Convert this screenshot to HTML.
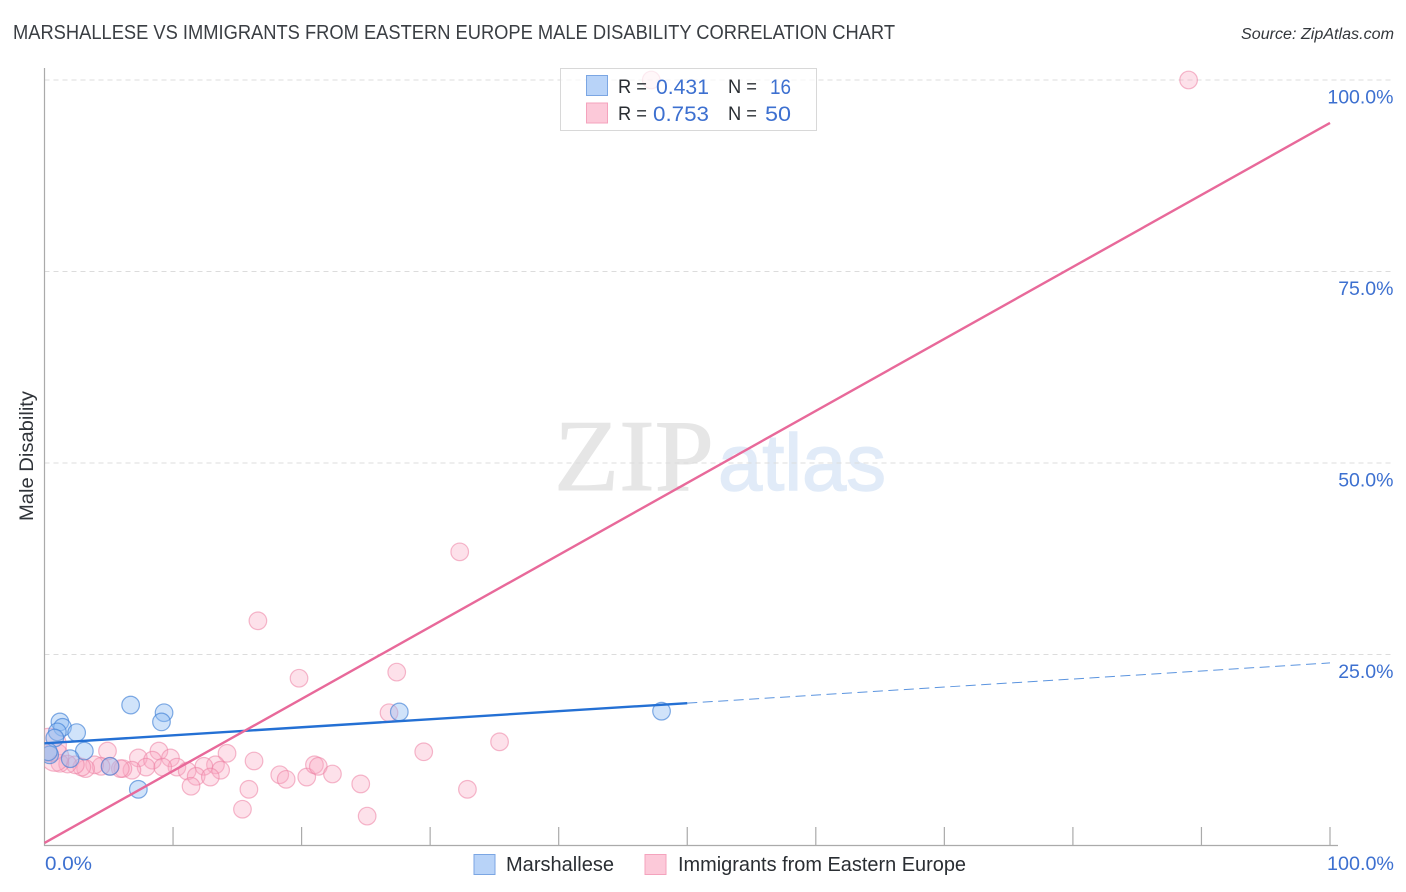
<!DOCTYPE html>
<html lang="en">
<head>
<meta charset="utf-8">
<title>Marshallese vs Immigrants from Eastern Europe Male Disability Correlation Chart</title>
<style>
html,body{margin:0;padding:0;background:#fff;width:1406px;height:892px;overflow:hidden}
svg{display:block;font-family:"Liberation Sans",sans-serif}
</style>
</head>
<body>
<svg id="chart" xmlns="http://www.w3.org/2000/svg" width="1406" height="892" viewBox="0 0 1406 892">
  <defs>
    <clipPath id="plot-clip"><rect x="44.5" y="60" width="1300" height="786"/></clipPath>
  </defs>
  <rect x="0" y="0" width="1406" height="892" fill="#fff"/>
  <text x="13" y="39" font-size="20" fill="#3a3e43" textLength="882" lengthAdjust="spacingAndGlyphs">MARSHALLESE VS IMMIGRANTS FROM EASTERN EUROPE MALE DISABILITY CORRELATION CHART</text>
  <text x="1241" y="39" font-size="15.5" font-style="italic" fill="#33373c" textLength="153" lengthAdjust="spacingAndGlyphs">Source: ZipAtlas.com</text>
  <g>
    <text x="554" y="490" font-family="'Liberation Serif',serif" font-size="102" fill="#e6e6e6" stroke="#e6e6e6" stroke-width="1" textLength="160" lengthAdjust="spacingAndGlyphs">ZIP</text>
    <text x="718" y="490" font-size="80" fill="#e1ebf8" stroke="#e1ebf8" stroke-width="1.4" textLength="168" lengthAdjust="spacingAndGlyphs">atlas</text>
  </g>
  <g id="grid"></g>
  <g id="axes"></g>
  <g id="points" clip-path="url(#plot-clip)"></g>
  <g id="trends"></g>
  <g id="ylabels"></g>
  <text transform="translate(33,456) rotate(-90)" text-anchor="middle" font-size="19" fill="#2f3338" textLength="130" lengthAdjust="spacingAndGlyphs">Male Disability</text>
  <text x="45" y="870" font-size="19" fill="#3d70d0" textLength="47" lengthAdjust="spacingAndGlyphs">0.0%</text>
  <text x="1327" y="870" font-size="19" fill="#3d70d0" textLength="67" lengthAdjust="spacingAndGlyphs">100.0%</text>

  <g>
    <rect x="560.5" y="68.5" width="256" height="62" fill="#fff" fill-opacity="0.72" stroke="#d8d8d8"/>
    <rect x="586.5" y="75.5" width="21" height="20" fill="#b8d3f8" stroke="#7ba6e3"/>
    <rect x="586.5" y="103" width="21" height="20" fill="#fcc9d9" stroke="#f4a3bd"/>
    <text x="618" y="93" font-size="19.5" fill="#2a2e33" textLength="29" lengthAdjust="spacingAndGlyphs">R =</text>
    <text x="656" y="94" font-size="21" fill="#3d70d0" textLength="53" lengthAdjust="spacingAndGlyphs">0.431</text>
    <text x="728" y="93" font-size="19.5" fill="#2a2e33" textLength="29" lengthAdjust="spacingAndGlyphs">N =</text>
    <text x="770" y="94" font-size="21" fill="#3d70d0" textLength="21" lengthAdjust="spacingAndGlyphs">16</text>
    <text x="618" y="120" font-size="19.5" fill="#2a2e33" textLength="29" lengthAdjust="spacingAndGlyphs">R =</text>
    <text x="653" y="121" font-size="21" fill="#3d70d0" textLength="56" lengthAdjust="spacingAndGlyphs">0.753</text>
    <text x="728" y="120" font-size="19.5" fill="#2a2e33" textLength="29" lengthAdjust="spacingAndGlyphs">N =</text>
    <text x="765" y="121" font-size="21" fill="#3d70d0" textLength="26" lengthAdjust="spacingAndGlyphs">50</text>
  </g>

  <g>
    <rect x="474" y="854.5" width="21" height="20" fill="#b8d3f8" stroke="#7ba6e3"/>
    <text x="506" y="871" font-size="20" fill="#2a2e33" textLength="108" lengthAdjust="spacingAndGlyphs">Marshallese</text>
    <rect x="645" y="854.5" width="21" height="20" fill="#fcc9d9" stroke="#f4a3bd"/>
    <text x="678" y="871" font-size="20" fill="#2a2e33" textLength="288" lengthAdjust="spacingAndGlyphs">Immigrants from Eastern Europe</text>
  </g>
</svg>
<script>
const yTicks = [100, 75, 50, 25];
const yTickLabels = ["100.0%", "75.0%", "50.0%", "25.0%"];
const xTicks = [10, 20, 30, 40, 50, 60, 70, 80, 90, 100];

const blueX = [1.2, 1.4, 1.0, 2.5, 0.8, 0.4, 0.3, 3.1, 2.0, 5.1, 7.3, 6.7, 9.3, 9.1, 27.6, 48.0];
const blueY = [16.2, 15.5, 14.9, 14.8, 14.1, 11.9, 12.3, 12.4, 11.4, 10.4, 7.4, 18.4, 17.4, 16.2, 17.5, 17.6];

const pinkX = [19.8, 4.9, 8.9, 14.2, 7.3, 9.8, 8.4, 16.3, 13.3, 12.4, 10.3, 7.9, 9.2, 13.7, 11.1, 11.8, 12.9, 11.4, 15.9, 15.4, 18.3, 18.8, 20.4, 21.0, 21.3, 22.4, 24.6, 25.1, 29.5, 35.4, 32.9, 26.8, 27.4, 32.3, 16.6, 47.2, 89.0, 6.8, 6.1, 5.9, 5.1, 4.4, 3.9, 3.2, 2.9, 2.4, 1.8, 1.2, 0.8, 0.4];
const pinkY = [21.9, 12.4, 12.4, 12.1, 11.5, 11.5, 11.2, 11.1, 10.6, 10.4, 10.3, 10.3, 10.3, 9.9, 9.8, 9.1, 9.0, 7.8, 7.4, 4.8, 9.3, 8.7, 9.0, 10.6, 10.4, 9.4, 8.1, 3.9, 12.3, 13.6, 7.4, 17.4, 22.7, 38.4, 29.4, 100, 100, 9.9, 10.1, 10.1, 10.4, 10.4, 10.6, 10.1, 10.3, 10.6, 10.7, 10.8, 11.6, 13.2];
const pinkLargeIndex = [48, 49];
const pinkLargeScale = [1.6, 1.9];

const blueTrendX = [0, 50, 100];
const blueTrendY = [13.4, 18.65, 23.9];
const pinkTrendX = [0, 100];
const pinkTrendY = [0.4, 94.4];

const NS = "http://www.w3.org/2000/svg";
function xScale(v) { return 44.5 + v * 12.855; }
function yScale(v) { return 846 - v * 7.66; }
function make(tag, attrs, parent) {
  const el = document.createElementNS(NS, tag);
  for (const k in attrs) el.setAttribute(k, attrs[k]);
  parent.appendChild(el);
  return el;
}

const grid = document.getElementById("grid");
const axes = document.getElementById("axes");
const ylabels = document.getElementById("ylabels");
const points = document.getElementById("points");
const trends = document.getElementById("trends");

yTicks.forEach(function (t, i) {
  const line = make("line", {x1: 44.5, x2: 1393, y1: yScale(t), y2: yScale(t), stroke: "#dcdcdc", "stroke-width": 1, "stroke-dasharray": "5 4"}, grid);
  
  
  const label = make("text", {x: 1393.5, y: yScale(t) + 23.5, "text-anchor": "end", "font-size": 19.5, fill: "#3d70d0"}, ylabels);
  label.textContent = yTickLabels[i];
  
  
});

const yAxis = make("line", {x1: 44.5, x2: 44.5, y1: 68, y2: 846, stroke: "#aaaaaa", "stroke-width": 1.2}, axes);


const xAxis = make("line", {x1: 44, x2: 1338, y1: 845.5, y2: 845.5, stroke: "#aaaaaa", "stroke-width": 1.2}, axes);


xTicks.forEach(function (t) {
  const tick = make("line", {x1: xScale(t), x2: xScale(t), y1: 827, y2: 846, stroke: "#aaaaaa", "stroke-width": 1.2}, axes);
  
  
});

pinkX.forEach(function (x, i) {
  const big = pinkLargeIndex.indexOf(i);
  const r = 8.8 * (big >= 0 ? pinkLargeScale[big] : 1);
  const c = make("circle", {cx: xScale(x), cy: yScale(pinkY[i]), r: r, fill: "#f9a8c2", "fill-opacity": 0.34, stroke: "#ec7fa3", "stroke-opacity": 0.55, "stroke-width": 1.2}, points);
  
  
});
blueX.forEach(function (x, i) {
  const c = make("circle", {cx: xScale(x), cy: yScale(blueY[i]), r: 8.8, fill: "#8fbcf2", "fill-opacity": 0.42, stroke: "#3f7fd6", "stroke-opacity": 0.65, "stroke-width": 1.2}, points);
  
  
});

const blueSolid = make("line", {x1: xScale(blueTrendX[0]), y1: yScale(blueTrendY[0]), x2: xScale(blueTrendX[1]), y2: yScale(blueTrendY[1]), stroke: "#2470d4", "stroke-width": 2.4}, trends);


const blueDash = make("line", {x1: xScale(blueTrendX[1]), y1: yScale(blueTrendY[1]), x2: xScale(blueTrendX[2]), y2: yScale(blueTrendY[2]), stroke: "#2470d4", "stroke-width": 1, "stroke-dasharray": "10 5.5", "stroke-opacity": 0.75}, trends);


const pinkLine = make("line", {x1: xScale(pinkTrendX[0]), y1: yScale(pinkTrendY[0]), x2: xScale(pinkTrendX[1]), y2: yScale(pinkTrendY[1]), stroke: "#e8699a", "stroke-width": 2.4}, trends);


</script>
</body>
</html>
